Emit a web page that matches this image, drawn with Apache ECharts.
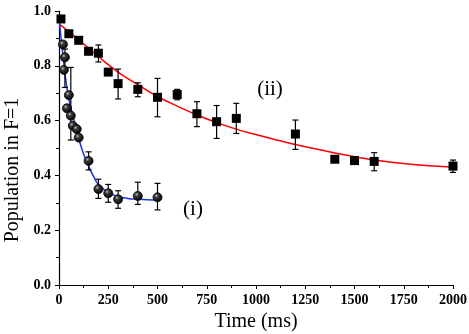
<!DOCTYPE html>
<html>
<head>
<meta charset="utf-8">
<script src="https://cdn.jsdelivr.net/npm/echarts@6/dist/echarts.min.js"></script>
<style>
  html, body { margin: 0; padding: 0; background: #fff; }
  #chart { width: 469px; height: 334px; }
</style>
</head>
<body>
<div id="chart"></div>
<script>
// (ii) squares: [time ms, population]
var sqPts = [[10,0.971],[50,0.917],[100,0.893],[150,0.853],[200,0.846],[250,0.777],[300,0.735],
  [400,0.714],[500,0.685],[600,0.695],[700,0.625],[800,0.596],[900,0.608],[1200,0.551],
  [1400,0.459],[1500,0.454],[1600,0.451],[2000,0.434]];
// error bars for squares: [time, low, high]
var sqErr = [[200,0.814,0.876],[300,0.679,0.788],[400,0.687,0.738],[500,0.614,0.754],
  [600,0.676,0.714],[700,0.578,0.669],[800,0.535,0.655],[900,0.553,0.663],[1200,0.495,0.602],
  [1600,0.417,0.483],[2000,0.411,0.456]];
// (i) circles
var ciPts = [[20,0.878],[25,0.785],[30,0.831],[40,0.645],[50,0.693],[60,0.618],[70,0.581],
  [90,0.569],[100,0.538],[150,0.453],[200,0.350],[250,0.335],[300,0.313],[400,0.325],[500,0.320]];
var ciErr = [[30,0.721,0.861],[60,0.529,0.794],[150,0.420,0.486],[200,0.316,0.386],
  [250,0.302,0.367],[300,0.280,0.344],[400,0.294,0.375],[500,0.274,0.371]];
// fitted curves
var redFit = [[5,0.95],[100,0.895],[200,0.834],[300,0.777],[400,0.731],[500,0.688],[600,0.653],
  [700,0.621],[800,0.593],[900,0.569],[1000,0.549],[1100,0.530],[1200,0.513],[1300,0.497],
  [1400,0.482],[1500,0.468],[1600,0.456],[1700,0.447],[1800,0.440],[1900,0.434],[2000,0.430]];
var blueFit = [[3,0.955],[10,0.905],[20,0.84],[30,0.775],[40,0.72],[50,0.678],[75,0.605],
  [100,0.535],[125,0.478],[150,0.435],[175,0.397],[200,0.367],[250,0.338],[300,0.323],
  [350,0.316],[400,0.313],[450,0.311],[500,0.310]];
var xTicks = [0, 250, 500, 750, 1000, 1250, 1500, 1750, 2000];
var yTicks = [0.0, 0.2, 0.4, 0.6, 0.8, 1.0];
var notes = [{text: '(i)', at: [680, 0.274]}, {text: '(ii)', at: [1071, 0.712]}];

var serif = '"Liberation Serif", "DejaVu Serif", serif';

function errItem(params, api) {
  var top = api.coord([api.value(0), api.value(2)]);
  var bot = api.coord([api.value(0), api.value(1)]);
  var w = 3;
  var st = { stroke: '#000', lineWidth: 1.2 };
  return { type: 'group', children: [
    { type: 'line', shape: { x1: top[0], y1: top[1], x2: bot[0], y2: bot[1] }, style: st },
    { type: 'line', shape: { x1: top[0]-w, y1: top[1], x2: top[0]+w, y2: top[1] }, style: st },
    { type: 'line', shape: { x1: bot[0]-w, y1: bot[1], x2: bot[0]+w, y2: bot[1] }, style: st }
  ]};
}

var chart = echarts.init(document.getElementById('chart'), null, { renderer: 'canvas' });

var ball = new echarts.graphic.RadialGradient(0.38, 0.35, 0.65, [
  { offset: 0, color: '#bdbdbd' }, { offset: 0.3, color: '#3a3a3a' }, { offset: 1, color: '#000' }
]);

chart.setOption({
  animation: false,
  grid: { left: 59, right: 16, top: 11, bottom: 49, containLabel: false, outerBoundsMode: 'none' },
  xAxis: {
    type: 'value', min: 0, max: 2000, interval: 250,
    name: 'Time (ms)', nameLocation: 'middle', nameGap: 27,
    nameTextStyle: { fontFamily: serif, fontSize: 20, color: '#000' },
    axisLine: { lineStyle: { color: '#000', width: 1.2 } },
    axisTick: { show: true, length: 4, lineStyle: { color: '#000' } },
    minorTick: { show: true, splitNumber: 2, length: 3, lineStyle: { color: '#000' } },
    splitLine: { show: false },
    axisLabel: { fontFamily: serif, fontWeight: 'bold', fontSize: 14, color: '#000', margin: 8,
      formatter: function (v) { return xTicks.indexOf(v) >= 0 ? String(v) : ''; } }
  },
  yAxis: {
    type: 'value', min: 0, max: 1, interval: 0.2,
    name: 'Population in F=1', nameLocation: 'middle', nameGap: 35,
    nameTextStyle: { fontFamily: serif, fontSize: 20, color: '#000', padding: [0, 44, 0, 0] },
    axisLine: { show: true, lineStyle: { color: '#000', width: 1.2 } },
    axisTick: { show: true, length: 4, lineStyle: { color: '#000' } },
    minorTick: { show: true, splitNumber: 2, length: 3, lineStyle: { color: '#000' } },
    splitLine: { show: false },
    axisLabel: { fontFamily: serif, fontWeight: 'bold', fontSize: 14, color: '#000', margin: 8,
      formatter: function (v) {
        var hit = yTicks.some(function (t) { return Math.abs(t - v) < 1e-6; });
        return hit ? v.toFixed(1) : '';
      } }
  },
  series: [
    { type: 'line', data: redFit, smooth: true, showSymbol: false, symbol: 'none',
      lineStyle: { color: '#ff0000', width: 1.5 }, z: 2 },
    { type: 'line', data: blueFit, smooth: true, showSymbol: false, symbol: 'none',
      lineStyle: { color: '#1a35e8', width: 1.5 }, z: 2 },
    { type: 'custom', data: sqErr, renderItem: errItem, z: 3 },
    { type: 'custom', data: ciErr, renderItem: errItem, z: 3 },
    { type: 'scatter', data: sqPts, symbol: 'rect', symbolSize: 9,
      itemStyle: { color: '#000', opacity: 1 }, z: 4 },
    { type: 'scatter', data: ciPts, symbol: 'circle', symbolSize: 9,
      itemStyle: { color: ball, borderColor: '#000', borderWidth: 0.8, opacity: 1 }, z: 4 }
  ]
});

chart.setOption({
  graphic: notes.map(function (n) {
    var p = chart.convertToPixel({ gridIndex: 0 }, n.at);
    return { type: 'text', x: p[0], y: p[1],
      style: { text: n.text, font: '21px ' + serif, fill: '#000', align: 'center', verticalAlign: 'middle' } };
  })
});
</script>
</body>
</html>
